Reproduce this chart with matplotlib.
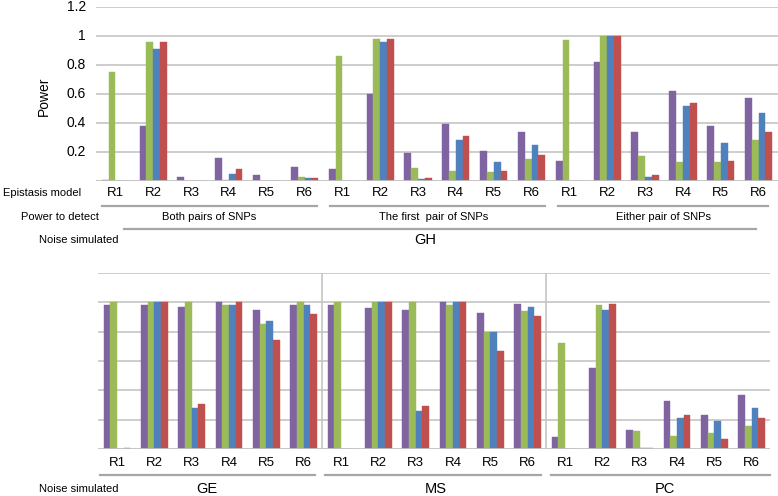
import matplotlib
matplotlib.use('Agg')
import matplotlib.pyplot as plt
from matplotlib.lines import Line2D
from matplotlib.transforms import blended_transform_factory as btf
import numpy as np

plt.rcParams['font.family'] = ['Liberation Sans', 'DejaVu Sans']

W, H = 778, 496

models = ['R1', 'R2', 'R3', 'R4', 'R5', 'R6']
top_groups = ['Both pairs of SNPs', 'The first  pair of SNPs', 'Either pair of SNPs']
top_noise = 'GH'
bottom_groups = ['GE', 'MS', 'PC']
yticks = [0.2, 0.4, 0.6, 0.8, 1.0, 1.2]
ytick_labels = ['0.2', '0.4', '0.6', '0.8', '1', '1.2']
colors = ['#8064A2', '#9BBB59', '#4F81BD', '#C0504D']

# Top panel (GH): Both pairs | The first pair | Either pair, each R1..R6
gh_purple = [0.01, 0.38, 0.03, 0.16, 0.04, 0.10,
             0.08, 0.60, 0.19, 0.39, 0.21, 0.34,
             0.14, 0.82, 0.34, 0.62, 0.38, 0.57]
gh_green = [0.75, 0.96, 0.0, 0.01, 0.0, 0.03,
            0.86, 0.98, 0.09, 0.07, 0.065, 0.155,
            0.97, 1.0, 0.17, 0.13, 0.13, 0.28]
gh_blue = [0.0, 0.91, 0.0, 0.05, 0.0, 0.02,
           0.0, 0.96, 0.015, 0.285, 0.13, 0.245,
           0.0, 1.0, 0.03, 0.52, 0.26, 0.47]
gh_red = [0.0, 0.96, 0.0, 0.08, 0.0, 0.02,
          0.0, 0.98, 0.02, 0.31, 0.07, 0.18,
          0.0, 1.0, 0.04, 0.54, 0.14, 0.34]

# Bottom panel: GE | MS | PC, each R1..R6
bt_purple = [0.985, 0.985, 0.97, 1.0, 0.95, 0.985,
             0.985, 0.96, 0.95, 1.0, 0.93, 0.99,
             0.08, 0.55, 0.13, 0.33, 0.23, 0.37]
bt_green = [1.0, 1.0, 1.0, 0.985, 0.85, 1.0,
            1.0, 1.0, 1.0, 0.985, 0.80, 0.94,
            0.72, 0.98, 0.12, 0.09, 0.11, 0.16]
bt_blue = [0.0, 1.0, 0.28, 0.985, 0.87, 0.985,
           0.0, 1.0, 0.26, 1.0, 0.80, 0.97,
           0.0, 0.95, 0.01, 0.21, 0.19, 0.28]
bt_red = [0.01, 1.0, 0.31, 1.0, 0.74, 0.92,
          0.0, 1.0, 0.29, 1.0, 0.67, 0.91,
          0.0, 0.99, 0.01, 0.23, 0.07, 0.21]

fig = plt.figure(figsize=(W / 100, H / 100), dpi=100)


def fx(x):
    return x / W


def fy(y):
    return 1 - y / H


def make_ax(l, r, t, b):
    return fig.add_axes([fx(l), fy(b), fx(r) - fx(l), fy(t) - fy(b)])


GRID = '#c0c0c0'
LINE = '#a6a6a6'
bw = 0.18


def draw_panel(ax, series, separators):
    n = len(series[0])
    x = np.arange(n)
    for gy in yticks:
        ax.axhline(gy, color=GRID, lw=1.1, zorder=0)
    ax.axhline(0, color=GRID, lw=1.3, zorder=3)
    for s in separators:
        ax.axvline(s, color=GRID, lw=1.1, zorder=0)
    for k, (vals, c) in enumerate(zip(series, colors)):
        ax.bar(x + (k - 1.5) * bw, vals, width=bw, color=c, zorder=2,
               edgecolor=c, linewidth=0.3)
    ax.set_xlim(-0.5, n - 0.5)
    ax.set_ylim(0, 1.2)
    for sp in ax.spines.values():
        sp.set_visible(False)
    ax.set_xticks([])
    ax.set_yticks([])
    ax.patch.set_alpha(0)
    return x


def hline(x0, x1, y, color=LINE, lw=1.6):
    fig.add_artist(Line2D([fx(x0), fx(x1)], [fy(y), fy(y)],
                          transform=fig.transFigure, color=color, lw=lw))


# ---------- Top panel ----------
ax1 = make_ax(96.4, 777.5, 7, 181)
x1 = draw_panel(ax1, [gh_purple, gh_green, gh_blue, gh_red], [])
trt = btf(fig.transFigure, ax1.transData)
for v, lab in zip(yticks, ytick_labels):
    fig.text(fx(86), v, lab, transform=trt, ha='right', va='center', fontsize=10)
fig.text(fx(44), fy(96), 'Power', rotation=90, ha='center', va='center', fontsize=10)

tr1 = btf(ax1.transData, fig.transFigure)
for i in x1:
    ax1.text(i, fy(193), models[i % 6], transform=tr1, ha='center', va='center', fontsize=9.5)
fig.text(fx(42), fy(193), 'Epistasis model', ha='center', va='center', fontsize=8)
fig.text(fx(60), fy(217), 'Power to detect', ha='center', va='center', fontsize=8)
fig.text(fx(79), fy(240), 'Noise simulated', ha='center', va='center', fontsize=8)

hline(102, 317, 205.7)
hline(330, 545, 205.7)
hline(558, 768, 205.7)
fig.text(fx(209), fy(217), top_groups[0], ha='center', va='center', fontsize=8)
fig.text(fx(434), fy(217), top_groups[1], ha='center', va='center', fontsize=8)
fig.text(fx(663), fy(217), top_groups[2], ha='center', va='center', fontsize=8)
hline(124, 756, 229)
fig.text(fx(425), fy(240), top_noise, ha='center', va='center', fontsize=10.5)

# ---------- Bottom panel ----------
ax2 = make_ax(98.3, 770.3, 273, 449)
x2 = draw_panel(ax2, [bt_purple, bt_green, bt_blue, bt_red], [5.5, 11.5])
tr2 = btf(ax2.transData, fig.transFigure)
for i in x2:
    ax2.text(i, fy(463), models[i % 6], transform=tr2, ha='center', va='center', fontsize=9.5)
hline(100, 315, 475)
hline(325, 541, 475)
hline(551, 770, 475)
fig.text(fx(79), fy(489), 'Noise simulated', ha='center', va='center', fontsize=8)
fig.text(fx(207), fy(489), bottom_groups[0], ha='center', va='center', fontsize=10.5)
fig.text(fx(436), fy(489), bottom_groups[1], ha='center', va='center', fontsize=10.5)
fig.text(fx(665), fy(489), bottom_groups[2], ha='center', va='center', fontsize=10.5)

fig.savefig('out.png', dpi=100)
